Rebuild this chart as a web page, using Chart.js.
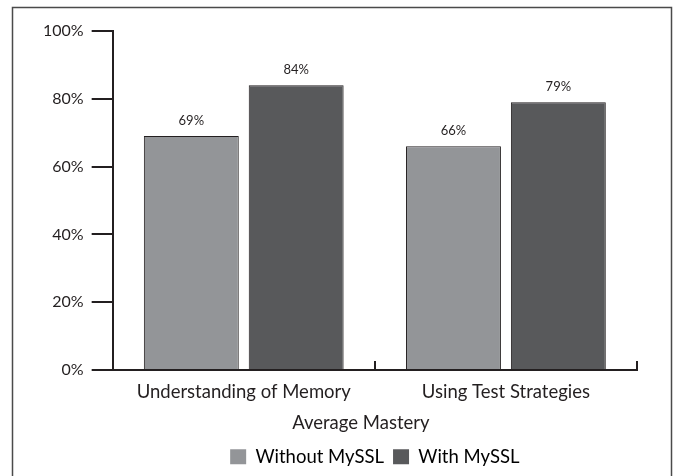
<!DOCTYPE html>
<html>
<head>
<meta charset="utf-8">
<script src="https://cdn.jsdelivr.net/npm/chart.js@4"></script>
<style>
  body { margin: 0; background: #fff; }
  #contenedor { width: 675px; height: 476px; }
</style>
</head>
<body>
<div id="contenedor"><canvas id="grafica-maestria"></canvas></div>
<script>
const categorias = ["Understanding of Memory", "Using Test Strategies"];
const sinMySSL = [69, 66];
const conMySSL = [84, 79];
const ticksY = [0, 20, 40, 60, 80, 100];

const colorTexto = "#231f20";
const fuente = "Lato, 'DejaVu Sans', sans-serif";

// marco exterior
const marcoPlugin = {
  id: "marco",
  beforeDraw: (chart) => {
    const ctx = chart.ctx;
    ctx.save();
    ctx.strokeStyle = "#4a4a4a";
    ctx.lineWidth = 1.5;
    ctx.strokeRect(12.5, 7.5, 659, 490);
    ctx.restore();
  }
};

// etiquetas arriba de cada barra
const etiquetasPlugin = {
  id: "etiquetas",
  afterDatasetsDraw: (chart) => {
    const ctx = chart.ctx;
    ctx.save();
    ctx.font = "13px " + fuente;
    ctx.fillStyle = colorTexto;
    ctx.textAlign = "center";
    ctx.textBaseline = "bottom";
    chart.data.datasets.forEach((ds, i) => {
      chart.getDatasetMeta(i).data.forEach((barra, j) => {
        ctx.fillText(ds.data[j] + "%", barra.x, barra.y - 9);
      });
    });
    ctx.restore();
  }
};

// marcas hacia arriba entre categorias en el eje x
const marcasXPlugin = {
  id: "marcasX",
  afterDraw: (chart) => {
    const x = chart.scales.x;
    const ctx = chart.ctx;
    const ancho = x.getPixelForTick(1) - x.getPixelForTick(0);
    const base = chart.chartArea.bottom;
    ctx.save();
    ctx.strokeStyle = colorTexto;
    ctx.lineWidth = 2;
    for (let i = 0; i <= categorias.length; i++) {
      const px = Math.round(x.getPixelForTick(0) - ancho / 2 + i * ancho);
      ctx.beginPath();
      ctx.moveTo(px, base);
      ctx.lineTo(px, base - 9);
      ctx.stroke();
    }
    ctx.restore();
  }
};

new Chart(document.getElementById("grafica-maestria"), {
  type: "bar",
  data: {
    labels: categorias,
    datasets: [
      {
        label: "Without MySSL",
        data: sinMySSL,
        backgroundColor: "#939598",
        borderColor: colorTexto,
        borderWidth: 1
      },
      {
        label: "With MySSL",
        data: conMySSL,
        backgroundColor: "#58595b",
        borderColor: colorTexto,
        borderWidth: 1
      }
    ]
  },
  options: {
    responsive: true,
    maintainAspectRatio: false,
    animation: false,
    categoryPercentage: 0.8,
    barPercentage: 0.905,
    layout: { padding: { top: 31, left: 35, right: 38, bottom: 0 } },
    plugins: {
      tooltip: { enabled: false },
      legend: {
        position: "bottom",
        fullSize: false,
        labels: {
          color: colorTexto,
          font: { family: fuente, size: 18.5 },
          boxWidth: 16,
          boxHeight: 15,
          padding: 9,
          generateLabels: (chart) => chart.data.datasets.map((ds, i) => ({
            text: ds.label,
            fillStyle: ds.backgroundColor,
            strokeStyle: ds.backgroundColor,
            lineWidth: 0,
            datasetIndex: i
          }))
        }
      }
    },
    scales: {
      x: {
        grid: { display: false },
        border: { color: colorTexto, width: 2 },
        ticks: { color: colorTexto, font: { family: fuente, size: 18.5 }, padding: 3 },
        title: {
          display: true,
          text: "Average Mastery\u00a0\u00a0\u00a0\u00a0\u00a0\u00a0",
          color: colorTexto,
          font: { family: fuente, size: 18.5 },
          padding: { top: 6, bottom: 4 }
        }
      },
      y: {
        min: 0,
        max: 100,
        afterBuildTicks: (scale) => { scale.ticks = ticksY.map(v => ({ value: v })); },
        grid: {
          drawOnChartArea: false,
          tickLength: 21,
          color: colorTexto,
          lineWidth: 2
        },
        border: { color: colorTexto, width: 2 },
        ticks: {
          color: colorTexto,
          font: { family: fuente, size: 16 },
          padding: 8,
          callback: (v) => v + "%"
        }
      }
    }
  },
  plugins: [marcoPlugin, etiquetasPlugin, marcasXPlugin]
});
</script>
</body>
</html>
